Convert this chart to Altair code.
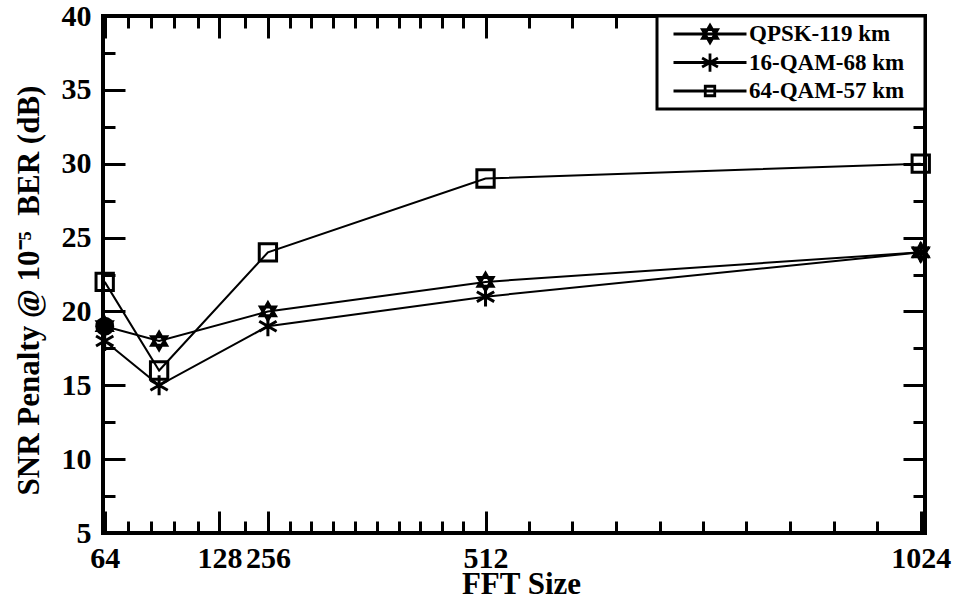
import altair as alt
import pandas as pd

# ---------------- data ----------------
fft_sizes = [64, 128, 256, 512, 1024]
qpsk_119 = [19, 18, 20, 22, 24]
qam16_68 = [18, 15, 19, 21, 24]
qam64_57 = [22, 16, 24, 29, 30]
series_names = ["QPSK-119 km", "16-QAM-68 km", "64-QAM-57 km"]

x_major_ticks = [64, 199, 256, 512, 1024]
x_major_labels = ["64", "128", "256", "512", "1024"]
x_minor_ticks = [91, 119, 146, 174, 229, 282, 307, 333, 358, 384, 410, 435,
                 461, 486, 563, 614, 666, 717, 768, 819, 870, 922, 973]
y_major_ticks = [5, 10, 15, 20, 25, 30, 35, 40]
y_minor_ticks = [7.5, 12.5, 17.5, 22.5, 27.5, 32.5, 37.5]

rows = []
for name, vals in zip(series_names, [qpsk_119, qam16_68, qam64_57]):
    for x, v in zip(fft_sizes, vals):
        rows.append({"fft": x, "snr": v, "series": name})
df = pd.DataFrame(rows)

FONT = "Liberation Serif"
MAJ, MIN = 22, 12

label_expr = "datum.label"
for v, l in zip(x_major_ticks, x_major_labels):
    label_expr = f"datum.value == {v} ? '{l}' : ({label_expr})"

xscale = alt.Scale(domain=[62, 1029], nice=False, zero=False)
yscale = alt.Scale(domain=[5, 40], nice=False, zero=False)


def axis(orient, size, values, labels=False, title=None, **kw):
    return alt.Axis(orient=orient, values=values, tickSize=size, offset=-size,
                    domain=False, grid=False, ticks=True, tickColor="black",
                    tickWidth=3, labels=labels, title=title, **kw)


ax_bottom_major = axis("bottom", MAJ, x_major_ticks, labels=True, title="FFT Size",
                       labelExpr=label_expr, labelFont=FONT, labelFontSize=30,
                       labelFontWeight="bold", labelColor="black", labelPadding=10,
                       labelFlush=False, labelOverlap=False,
                       titleFont=FONT, titleFontSize=31, titleFontWeight="bold",
                       titleColor="black", titlePadding=-4, titleX=418)
ax_left_major = axis("left", MAJ, y_major_ticks, labels=True,
                     title="SNR Penalty @ 10\u207b\u2075\u00a0 BER (dB)",
                     labelFont=FONT, labelFontSize=30, labelFontWeight="bold",
                     labelColor="black", labelPadding=12, labelFlush=False,
                     labelOverlap=False,
                     titleFont=FONT, titleFontSize=31, titleFontWeight="bold",
                     titleColor="black", titlePadding=16, titleY=274)
ax_bottom_minor = axis("bottom", MIN, x_minor_ticks)
ax_left_minor = axis("left", MIN, y_minor_ticks)
ax_top_major = axis("top", MAJ, x_major_ticks)
ax_right_major = axis("right", MAJ, y_major_ticks)
ax_top_minor = axis("top", MIN, x_minor_ticks)
ax_right_minor = axis("right", MIN, y_minor_ticks)

# marker shapes (unit box)
hexagram = "M0,-1L0.866,0.5L-0.866,0.5ZM0,1L0.866,-0.5L-0.866,-0.5Z"
asterisk = "M0,-1.15V1.15M-1,-0.575L1,0.575M-1,0.575L1,-0.575"
square = "M-1,-1H1V1H-1Z"

# legend symbols: line with marker, 73 px wide
leg_hex = "M-1,0L1,0M0,-0.24L0.208,0.12L-0.208,0.12ZM0,0.24L0.208,-0.12L-0.208,-0.12Z"
leg_ast = "M-1,0L1,0M0,-0.25V0.25M-0.217,-0.125L0.217,0.125M-0.217,0.125L0.217,-0.125"
leg_sq = "M-1,0L1,0M-0.13,-0.13H0.13V0.13H-0.13Z"

lines = alt.Chart(df).mark_line(color="black", strokeWidth=2).encode(
    x=alt.X("fft:Q", scale=xscale, axis=ax_bottom_major),
    y=alt.Y("snr:Q", scale=yscale, axis=ax_left_major),
    detail="series:N",
)

# the first QPSK marker is drawn as a filled circle in the reference
first_circle = alt.Chart(df).transform_filter(
    (alt.datum.series == series_names[0]) & (alt.datum.fft == fft_sizes[0])
).mark_point(shape="circle", filled=True, color="black", size=360, opacity=1).encode(
    x=alt.X("fft:Q", scale=xscale, axis=None),
    y=alt.Y("snr:Q", scale=yscale, axis=None),
)

points = alt.Chart(df).mark_point(color="black", strokeWidth=3, size=300,
                                  opacity=1).encode(
    x=alt.X("fft:Q", scale=xscale, axis=ax_bottom_minor),
    y=alt.Y("snr:Q", scale=yscale, axis=ax_left_minor),
    shape=alt.Shape("series:N", scale=alt.Scale(domain=series_names,
                                                range=[hexagram, asterisk, square]),
                    legend=None),
)

legend_layer = alt.Chart(df).transform_filter("false").mark_point(
    color="black", strokeWidth=2.5, opacity=1).encode(
    x=alt.X("fft:Q", scale=xscale, axis=ax_top_major),
    y=alt.Y("snr:Q", scale=yscale, axis=ax_right_major),
    shape=alt.Shape("series:N",
                    scale=alt.Scale(domain=series_names, range=[leg_hex, leg_ast, leg_sq]),
                    legend=alt.Legend(orient="top-right", offset=0, title="\u00a0",
                                      titleOrient="right", titlePadding=17,
                                      titleFontSize=12, titleFont=FONT,
                                      padding=4, strokeColor="black",
                                      fillColor="white", labelFont=FONT,
                                      labelFontSize=23, labelFontWeight="bold",
                                      labelColor="black", symbolSize=5329,
                                      symbolStrokeWidth=2.8, symbolStrokeColor="black",
                                      labelOffset=1, clipHeight=28, rowPadding=0.5,
                                      symbolOffset=11, labelLimit=400)),
)

minor_tr = alt.Chart(df).transform_filter("false").mark_point(opacity=0).encode(
    x=alt.X("fft:Q", scale=xscale, axis=ax_top_minor),
    y=alt.Y("snr:Q", scale=yscale, axis=ax_right_minor),
)

chart = alt.layer(lines, first_circle, points, legend_layer, minor_tr).resolve_axis(
    x="independent", y="independent"
).resolve_scale(shape="independent").properties(
    width=822, height=517,
    autosize=alt.AutoSizeParams(type="none"),
    padding={"left": 103, "top": 16, "right": 30, "bottom": 68},
    background="white",
).configure_view(stroke="black", strokeWidth=4).configure_legend(strokeWidth=3)

chart.save("out.html", embed_options={"renderer": "svg", "actions": False})
